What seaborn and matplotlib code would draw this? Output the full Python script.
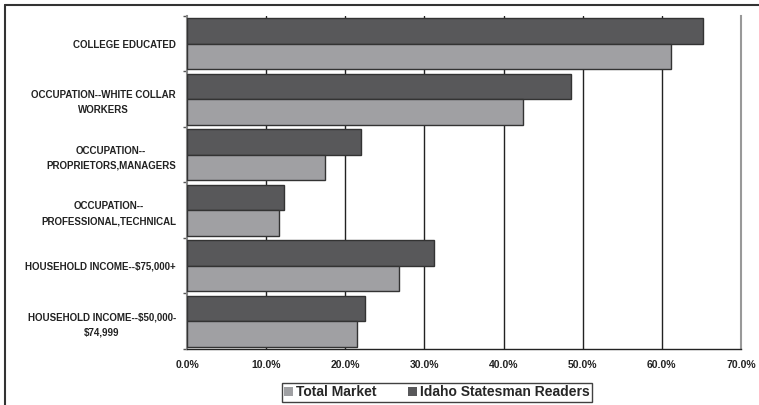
import matplotlib
matplotlib.use("Agg")
import matplotlib.pyplot as plt
from matplotlib.lines import Line2D
from matplotlib.patches import Patch
import pandas as pd
import seaborn as sns

categories = [
    "COLLEGE EDUCATED",
    "OCCUPATION--WHITE COLLAR\nWORKERS",
    "OCCUPATION--\nPROPRIETORS,MANAGERS",
    "OCCUPATION--\nPROFESSIONAL,TECHNICAL",
    "HOUSEHOLD INCOME--$75,000+",
    "HOUSEHOLD INCOME--$50,000-\n$74,999",
]
readers = [65.2, 48.5, 22.0, 12.3, 31.2, 22.5]
total_market = [61.1, 42.4, 17.4, 11.6, 26.8, 21.5]
series_names = ["Idaho Statesman Readers", "Total Market"]
x_ticks = [0, 10, 20, 30, 40, 50, 60, 70]
x_tick_labels = ["0.0%", "10.0%", "20.0%", "30.0%", "40.0%", "50.0%", "60.0%", "70.0%"]

DARK = "#58585a"
LIGHT = "#9fa0a3"
EDGE = "#333333"

df = pd.DataFrame({
    "Category": categories * 2,
    "Series": [series_names[0]] * len(categories) + [series_names[1]] * len(categories),
    "Value": readers + total_market,
})

sns.set_style("white")
plt.rcParams["font.family"] = ["Liberation Sans", "DejaVu Sans"]

fig = plt.figure(figsize=(7.59, 4.05), dpi=100)
ax = fig.add_axes([0.2464, 0.1383, 0.7299, 0.8222])

sns.barplot(data=df, y="Category", x="Value", hue="Series", order=categories,
            hue_order=series_names, palette=[DARK, LIGHT], orient="h",
            width=0.92, edgecolor=EDGE, linewidth=1, legend=False, ax=ax,
            zorder=3)

ax.set_xlim(0, 70)
ax.set_ylim(len(categories) - 0.5, -0.5)
ax.set_xticks(x_ticks)
ax.set_xticklabels(x_tick_labels, fontsize=7.5, fontweight="bold", color="#222222")
ax.set_yticks(range(len(categories)))
ax.set_yticklabels(categories, fontsize=7, fontweight="bold", color="#222222",
                   multialignment="center", ha="right", linespacing=1.6)
ax.tick_params(axis="y", length=0, pad=8)
ax.tick_params(axis="x", length=3, width=1, color="#333333", pad=5, direction="out")
ax.set_yticks([i + 0.5 for i in range(-1, len(categories))], minor=True)
ax.tick_params(axis="y", which="minor", length=3, width=1, color="#555555", left=True)
ax.set_xlabel("")
ax.set_ylabel("")

for v in x_ticks[1:-1]:
    ax.axvline(v, color="#222222", lw=1, zorder=1)

ax.spines["top"].set_visible(False)
ax.spines["right"].set_color("#999999")
ax.spines["right"].set_linewidth(1.5)
ax.spines["left"].set_color("#888888")
ax.spines["left"].set_linewidth(1.5)
ax.spines["bottom"].set_color("#222222")
ax.spines["bottom"].set_linewidth(1)

handles = [Patch(facecolor=LIGHT, edgecolor="none", label="Total Market"),
           Patch(facecolor=DARK, edgecolor="none", label="Idaho Statesman Readers")]
leg = fig.legend(handles=handles, loc="center", bbox_to_anchor=(0.5758, 0.031), ncol=2,
                 frameon=True, fancybox=False, handlelength=0.65, handleheight=0.65,
                 handletextpad=0.2, columnspacing=2.3, borderpad=0.15,
                 prop={"family": ["Liberation Sans Narrow", "Liberation Sans", "DejaVu Sans"],
                       "weight": "bold", "size": 10})
leg.get_frame().set_edgecolor("#111111")
leg.get_frame().set_linewidth(1)

fig.add_artist(Line2D([0.0066, 0.0066], [0.0, 0.9877], transform=fig.transFigure,
                      color="#333333", lw=1.5))
fig.add_artist(Line2D([0.0066, 1.0], [0.9877, 0.9877], transform=fig.transFigure,
                      color="#333333", lw=1.5))

fig.savefig("out.png", dpi=100)
